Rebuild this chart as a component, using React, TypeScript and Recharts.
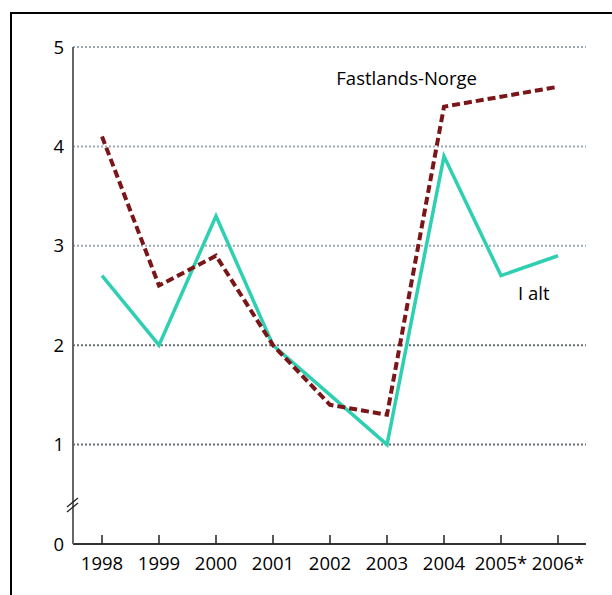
import React from "react";
import { LineChart, Line, XAxis, YAxis, ReferenceLine } from "recharts";

const years = ["1998", "1999", "2000", "2001", "2002", "2003", "2004", "2005*", "2006*"];
const fastlandsNorge = [4.1, 2.6, 2.9, 2.0, 1.4, 1.3, 4.4, 4.5, 4.6];
const iAlt = [2.7, 2.0, 3.3, 2.0, 1.5, 1.0, 3.9, 2.7, 2.9];
const yTicks = [0, 1, 2, 3, 4, 5];
const lightGrid = [3, 4, 5];
const darkGrid = [1, 2];

const data = years.map((year, i) => ({
  year,
  fastlands: fastlandsNorge[i],
  total: iAlt[i]
}));

const font = "'Open Sans', sans-serif";

function XTick(props: any) {
  const { x, y, payload } = props;
  return (
    <g>
      <line x1={x} y1={y} x2={x} y2={y - 9} stroke="#222" strokeWidth={1.5} />
      <text x={x} y={y + 26} textAnchor="middle" fontSize={18.5} fontFamily={font} fill="#000">
        {payload.value}
      </text>
    </g>
  );
}

function YTick(props: any) {
  const { x, y, payload } = props;
  return (
    <g>
      <text x={x - 9} y={y + 6.5} textAnchor="end" fontSize={18.5} fontFamily={font} fill="#000">
        {payload.value}
      </text>
      {payload.value === 0 && (
        <g stroke="#222" strokeWidth={1.3}>
          <line x1={x - 6} y1={y - 32} x2={x + 5} y2={y - 41} />
          <line x1={x - 6} y1={y - 37} x2={x + 5} y2={y - 46} />
        </g>
      )}
    </g>
  );
}

function SeriesLabel(text: string, at: number, dx: number, dy: number, anchor: string) {
  return (props: any) => {
    const { x, y, index } = props;
    if (index !== at) return null;
    return (
      <text x={x + dx} y={y + dy} textAnchor={anchor} fontSize={18.5} fontFamily={font} fill="#000">
        {text}
      </text>
    );
  };
}

export default function App() {
  return (
    <div style={{ position: "absolute", left: 0, top: 0, width: 612, height: 595, background: "#fff" }}>
      <div
        style={{
          position: "absolute",
          left: 10,
          top: 12,
          width: 602,
          height: 583,
          borderTop: "2px solid #000",
          borderLeft: "2px solid #000"
        }}
      />
      <div style={{ position: "absolute", left: 0, top: 0 }}>
        <LineChart width={612} height={595} data={data} margin={{ top: 47, right: 26, bottom: 21, left: 0 }}>
          {lightGrid.map((v) => (
            <ReferenceLine key={`l${v}`} y={v} stroke="#9aa9b6" strokeWidth={2} strokeDasharray="2 2" />
          ))}
          {darkGrid.map((v) => (
            <ReferenceLine key={`d${v}`} y={v} stroke="#666c70" strokeWidth={2} strokeDasharray="2 2" />
          ))}
          <XAxis
            dataKey="year"
            height={30}
            padding={{ left: 29, right: 28 }}
            axisLine={{ stroke: "#333", strokeWidth: 2 }}
            tickLine={false}
            tickSize={0}
            tickMargin={0}
            tick={<XTick />}
            interval={0}
          />
          <YAxis
            width={73}
            domain={[0, 5]}
            ticks={yTicks}
            axisLine={{ stroke: "#666", strokeWidth: 2 }}
            tickLine={false}
            tickSize={0}
            tickMargin={0}
            tick={<YTick />}
          />
          <Line
            dataKey="total"
            stroke="#2fcfb1"
            strokeWidth={3.5}
            dot={false}
            isAnimationActive={false}
            label={SeriesLabel("I alt", 7, 17, 24, "start")}
          />
          <Line
            dataKey="fastlands"
            stroke="#7a1518"
            strokeWidth={4}
            strokeDasharray="8 4"
            dot={false}
            isAnimationActive={false}
            label={SeriesLabel("Fastlands-Norge", 6, 33, -22, "end")}
          />
        </LineChart>
      </div>
    </div>
  );
}
